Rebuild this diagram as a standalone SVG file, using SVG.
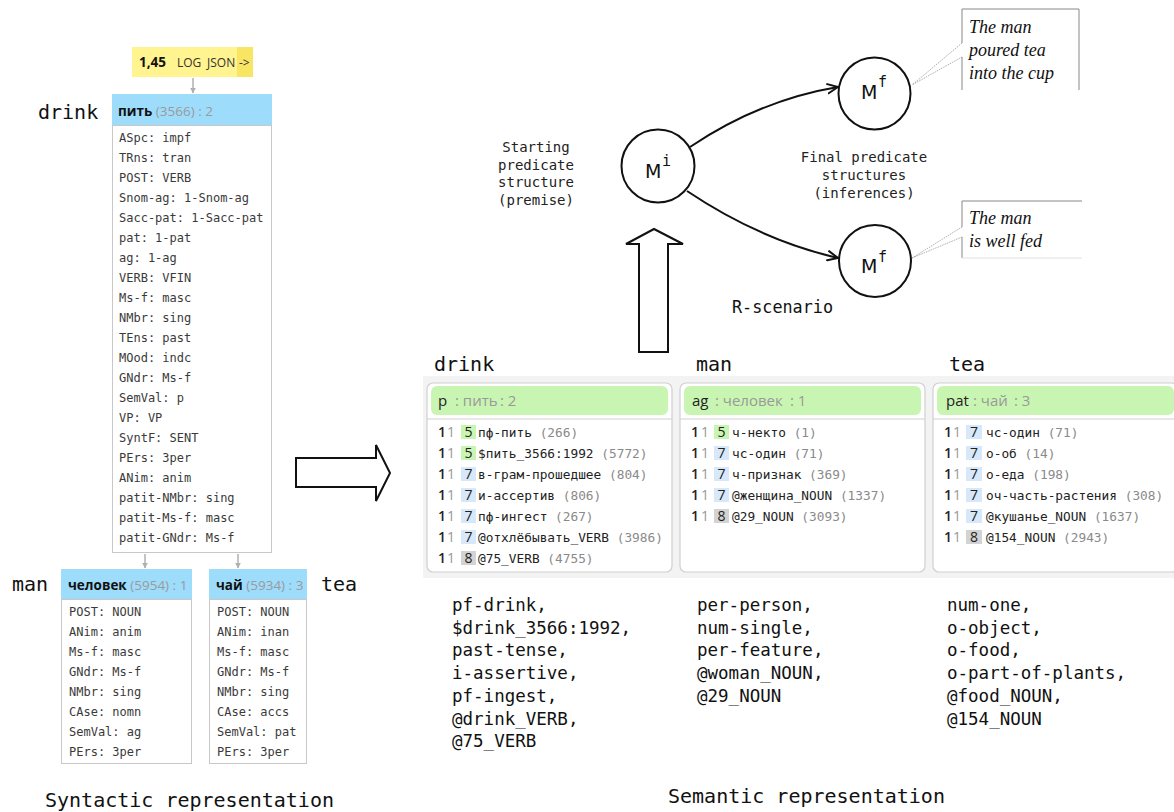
<svg xmlns="http://www.w3.org/2000/svg" width="1174" height="812" viewBox="0 0 1174 812">
<style>
.mono{font-family:"DejaVu Sans Mono","Liberation Mono",monospace}
.sans{font-family:"Open Sans","Noto Sans","DejaVu Sans",sans-serif}
.lbl{font-size:20px;fill:#111}
.attr{font-size:12px;fill:#3a3a3a}
.hdr{fill:#9edcfc}
.box{fill:#fff;stroke:#c8c8c8;stroke-width:1}
.htx{font-size:13.5px}
.hb{font-weight:bold;fill:#111}
.hg{fill:#9a9a9a}
.cap{font-size:14px;fill:#222;text-anchor:middle}
.circ{fill:#fff;stroke:#111;stroke-width:2}
.big{font-family:"DejaVu Sans","Liberation Sans",sans-serif;font-size:19px;fill:#111}
.sup{font-size:15px;fill:#111}
.it{font-family:"Liberation Serif","Times New Roman",serif;font-style:italic;font-size:18px;fill:#111}
.co{fill:none;stroke:#888;stroke-width:1}
.ptr{fill:none;stroke:#999;stroke-width:0.8;stroke-dasharray:1.5 1}
.panel{fill:#fff;stroke:#d0d0d0;stroke-width:1.2}
.ghdr{fill:#c9f5b2}
.sep{stroke:#d0d0d0;stroke-width:1.2}
.gh{font-size:15px}
.gk{fill:#222}
.gg{fill:#999}
.d1{font-size:14px;fill:#222;font-weight:600}
.d2{font-size:14px;fill:#999}
.bn{font-size:14px;fill:#222;text-anchor:middle}
.bg5{fill:#c9f5b2}
.bg7{fill:#d7e8fb}
.bg8{fill:#d3d3d3}
.row{font-size:12.8px;fill:#222}
.num{fill:#8a8a8a}
.list{font-size:17.5px;fill:#111}
.gline{stroke:#b0b0b0;stroke-width:1.5;fill:none}
.curve{stroke:#111;stroke-width:2;fill:none}
.hollow{fill:#fff;stroke:#111;stroke-width:2;stroke-linejoin:miter}
</style>
<defs>
<marker id="ga" viewBox="0 0 10 10" refX="9" refY="5" markerWidth="4" markerHeight="4" orient="auto">
<path d="M0,0 L10,5 L0,10 z" fill="#b0b0b0"/>
</marker>
<marker id="ba" viewBox="0 0 12 12" refX="11" refY="6" markerWidth="12" markerHeight="12" markerUnits="userSpaceOnUse" orient="auto">
<path d="M0,1 L11,6 L0,11" fill="none" stroke="#111" stroke-width="2"/>
</marker>
</defs>
<rect width="1174" height="812" fill="#fff"/>

<!-- Syntactic representation -->
<g id="log">
<rect x="132" y="47" width="121" height="30" fill="#fff48f"/>
<rect x="237" y="47" width="16" height="30" fill="#f8e563"/>
<text x="139" y="67" class="sans" font-size="13.5" font-weight="bold" fill="#111">1,45</text>
<text x="177" y="67" class="sans" font-size="12" fill="#333">LOG</text>
<text x="207" y="67" class="sans" font-size="12" fill="#333">JSON</text>
<text x="239" y="67" class="sans" font-size="12" fill="#333">-&gt;</text>
</g>

<g id="node-pit">
<rect x="112" y="94" width="160" height="31" class="hdr"/>
<text x="118" y="116" class="sans htx"><tspan class="hb">пить</tspan><tspan class="hg"> (3566) : 2</tspan></text>
<rect x="112.5" y="125.5" width="159" height="427" class="box"/>
<g class="mono attr">
<text x="119" y="142">ASpc: impf</text>
<text x="119" y="162">TRns: tran</text>
<text x="119" y="182">POST: VERB</text>
<text x="119" y="202">Snom-ag: 1-Snom-ag</text>
<text x="119" y="222">Sacc-pat: 1-Sacc-pat</text>
<text x="119" y="242">pat: 1-pat</text>
<text x="119" y="262">ag: 1-ag</text>
<text x="119" y="282">VERB: VFIN</text>
<text x="119" y="302">Ms-f: masc</text>
<text x="119" y="322">NMbr: sing</text>
<text x="119" y="342">TEns: past</text>
<text x="119" y="362">MOod: indc</text>
<text x="119" y="382">GNdr: Ms-f</text>
<text x="119" y="402">SemVal: p</text>
<text x="119" y="422">VP: VP</text>
<text x="119" y="442">SyntF: SENT</text>
<text x="119" y="462">PErs: 3per</text>
<text x="119" y="482">ANim: anim</text>
<text x="119" y="502">patit-NMbr: sing</text>
<text x="119" y="522">patit-Ms-f: masc</text>
<text x="119" y="542">patit-GNdr: Ms-f</text>
</g>
<text x="38" y="119" class="mono lbl">drink</text>
</g>

<g id="node-chelovek">
<rect x="61" y="569" width="131" height="30" class="hdr"/>
<text x="68" y="590" class="sans htx"><tspan class="hb">человек</tspan><tspan class="hg"> (5954) : 1</tspan></text>
<rect x="61.5" y="599.5" width="130" height="164" class="box"/>
<g class="mono attr">
<text x="69" y="616">POST: NOUN</text>
<text x="69" y="636">ANim: anim</text>
<text x="69" y="656">Ms-f: masc</text>
<text x="69" y="676">GNdr: Ms-f</text>
<text x="69" y="696">NMbr: sing</text>
<text x="69" y="716">CAse: nomn</text>
<text x="69" y="736">SemVal: ag</text>
<text x="69" y="756">PErs: 3per</text>
</g>
<text x="12" y="591" class="mono lbl">man</text>
</g>

<g id="node-chai">
<rect x="209" y="569" width="98" height="30" class="hdr"/>
<text x="216" y="590" class="sans htx"><tspan class="hb">чай</tspan><tspan class="hg"> (5934) : 3</tspan></text>
<rect x="209.5" y="599.5" width="97" height="164" class="box"/>
<g class="mono attr">
<text x="217" y="616">POST: NOUN</text>
<text x="217" y="636">ANim: inan</text>
<text x="217" y="656">Ms-f: masc</text>
<text x="217" y="676">GNdr: Ms-f</text>
<text x="217" y="696">NMbr: sing</text>
<text x="217" y="716">CAse: accs</text>
<text x="217" y="736">SemVal: pat</text>
<text x="217" y="756">PErs: 3per</text>
</g>
<text x="321" y="591" class="mono lbl">tea</text>
</g>

<text x="45" y="807" class="mono lbl">Syntactic representation</text>

<g id="connectors">
<line x1="193" y1="78" x2="193" y2="93" class="gline" marker-end="url(#ga)"/>
<line x1="145" y1="554" x2="145" y2="568" class="gline" marker-end="url(#ga)"/>
<line x1="238" y1="554" x2="238" y2="568" class="gline" marker-end="url(#ga)"/>
<path d="M690,147 Q760,100 838,87" class="curve" marker-end="url(#ba)"/>
<path d="M687,191 Q760,240 838,258" class="curve" marker-end="url(#ba)"/>
<polygon points="296,458 376,458 376,445 390,473 376,501 376,487 296,487" class="hollow"/>
<polygon points="639,352 639,244 626,244 654,229 683,244 668,244 668,352" class="hollow"/>
</g>

<!-- Semantic predicate structures -->
<g id="Mi">
<circle cx="658" cy="166" r="36.5" class="circ"/>
<text x="645" y="178" class="big">M</text>
<text x="662" y="166" class="mono sup">i</text>
<g class="mono cap">
<text x="536" y="152">Starting</text>
<text x="536" y="169.5">predicate</text>
<text x="536" y="187">structure</text>
<text x="536" y="204.5">(premise)</text>
</g>
</g>

<g id="Mf1">
<circle cx="874.5" cy="93.5" r="36" class="circ"/>
<text x="861" y="99" class="big">M</text>
<text x="878" y="87" class="mono sup">f</text>
</g>

<g id="Mf2">
<circle cx="875" cy="261" r="36" class="circ"/>
<text x="861" y="273" class="big">M</text>
<text x="878" y="262" class="mono sup">f</text>
</g>

<g class="mono cap">
<text x="864" y="162">Final predicate</text>
<text x="864" y="180">structures</text>
<text x="864" y="198">(inferences)</text>
</g>
<text x="732" y="313" class="mono" font-size="16.8" fill="#111">R-scenario</text>

<g id="callout1">
<path d="M962,43 L962,9 L1079,9 L1079,90 M962,57 L962,90" class="co"/>
<path d="M962,43 L912,85 M962,57 L912,85" class="ptr"/>
<text x="969" y="33" class="it">The man</text>
<text x="969" y="56" class="it">poured tea</text>
<text x="969" y="79" class="it">into the cup</text>
</g>

<g id="callout2">
<path d="M962,227 L962,201 L1082,201 M962,237 L962,258" class="co"/>
<line x1="962" y1="258" x2="1082" y2="258" stroke="#e0e0e0" stroke-width="1"/>
<path d="M962,227 L912,258 M962,237 L912,258" class="ptr"/>
<text x="969" y="224" class="it">The man</text>
<text x="969" y="247" class="it">is well fed</text>
</g>

<!-- Semantic panels -->
<rect x="423" y="376" width="751" height="202" fill="#f3f3f3"/>
<text x="434" y="371" class="mono lbl">drink</text>
<text x="696" y="371" class="mono lbl">man</text>
<text x="949" y="371" class="mono lbl">tea</text>

<g id="panel-p">
<rect x="427" y="383" width="245" height="189" rx="6" class="panel"/>
<rect x="431" y="386" width="237" height="29" rx="6" class="ghdr"/>
<line x1="427" y1="419" x2="672" y2="419" class="sep"/>
<text x="438" y="406" class="sans gh gk">p</text>
<text x="455" y="406" class="sans gh gg">: пить</text>
<text x="500" y="406" class="sans gh gg">: 2</text>
<rect x="461" y="425" width="15" height="14" class="bg5"/>
<rect x="461" y="446" width="15" height="14" class="bg5"/>
<rect x="461" y="467" width="15" height="14" class="bg7"/>
<rect x="461" y="488" width="15" height="14" class="bg7"/>
<rect x="461" y="509" width="15" height="14" class="bg7"/>
<rect x="461" y="530" width="15" height="14" class="bg7"/>
<rect x="461" y="551" width="15" height="14" class="bg8"/>
<g class="sans d1"><text x="438" y="437">1</text><text x="438" y="458">1</text><text x="438" y="479">1</text><text x="438" y="500">1</text><text x="438" y="521">1</text><text x="438" y="542">1</text><text x="438" y="563">1</text></g>
<g class="sans d2"><text x="447" y="437">1</text><text x="447" y="458">1</text><text x="447" y="479">1</text><text x="447" y="500">1</text><text x="447" y="521">1</text><text x="447" y="542">1</text><text x="447" y="563">1</text></g>
<g class="sans bn"><text x="468.5" y="437">5</text><text x="468.5" y="458">5</text><text x="468.5" y="479">7</text><text x="468.5" y="500">7</text><text x="468.5" y="521">7</text><text x="468.5" y="542">7</text><text x="468.5" y="563">8</text></g>
<g class="mono row">
<text x="478" y="436.5">пф-пить<tspan class="num"> (266)</tspan></text>
<text x="478" y="457.5">$пить_3566:1992<tspan class="num"> (5772)</tspan></text>
<text x="478" y="478.5">в-грам-прошедшее<tspan class="num"> (804)</tspan></text>
<text x="478" y="499.5">и-ассертив<tspan class="num"> (806)</tspan></text>
<text x="478" y="520.5">пф-ингест<tspan class="num"> (267)</tspan></text>
<text x="478" y="541.5">@отхлёбывать_VERB<tspan class="num"> (3986)</tspan></text>
<text x="478" y="562.5">@75_VERB<tspan class="num"> (4755)</tspan></text>
</g>
</g>

<g id="panel-ag">
<rect x="680" y="383" width="245" height="189" rx="6" class="panel"/>
<rect x="684" y="386" width="237" height="29" rx="6" class="ghdr"/>
<line x1="680" y1="419" x2="925" y2="419" class="sep"/>
<text x="692" y="406" class="sans gh gk">ag</text>
<text x="715" y="406" class="sans gh gg">: человек</text>
<text x="790" y="406" class="sans gh gg">: 1</text>
<rect x="714" y="425" width="15" height="14" class="bg5"/>
<rect x="714" y="446" width="15" height="14" class="bg7"/>
<rect x="714" y="467" width="15" height="14" class="bg7"/>
<rect x="714" y="488" width="15" height="14" class="bg7"/>
<rect x="714" y="509" width="15" height="14" class="bg8"/>
<g class="sans d1"><text x="691" y="437">1</text><text x="691" y="458">1</text><text x="691" y="479">1</text><text x="691" y="500">1</text><text x="691" y="521">1</text></g>
<g class="sans d2"><text x="701" y="437">1</text><text x="701" y="458">1</text><text x="701" y="479">1</text><text x="701" y="500">1</text><text x="701" y="521">1</text></g>
<g class="sans bn"><text x="721.5" y="437">5</text><text x="721.5" y="458">7</text><text x="721.5" y="479">7</text><text x="721.5" y="500">7</text><text x="721.5" y="521">8</text></g>
<g class="mono row">
<text x="732" y="436.5">ч-некто<tspan class="num"> (1)</tspan></text>
<text x="732" y="457.5">чс-один<tspan class="num"> (71)</tspan></text>
<text x="732" y="478.5">ч-признак<tspan class="num"> (369)</tspan></text>
<text x="732" y="499.5">@женщина_NOUN<tspan class="num"> (1337)</tspan></text>
<text x="732" y="520.5">@29_NOUN<tspan class="num"> (3093)</tspan></text>
</g>
</g>

<g id="panel-pat">
<rect x="933" y="383" width="245" height="189" rx="6" class="panel"/>
<rect x="937" y="386" width="237" height="29" rx="6" class="ghdr"/>
<line x1="933" y1="419" x2="1174" y2="419" class="sep"/>
<text x="946" y="406" class="sans gh gk">pat</text>
<text x="973" y="406" class="sans gh gg">: чай</text>
<text x="1014" y="406" class="sans gh gg">: 3</text>
<rect x="966" y="425" width="16" height="14" class="bg7"/>
<rect x="966" y="446" width="16" height="14" class="bg7"/>
<rect x="966" y="467" width="16" height="14" class="bg7"/>
<rect x="966" y="488" width="16" height="14" class="bg7"/>
<rect x="966" y="509" width="16" height="14" class="bg7"/>
<rect x="966" y="530" width="16" height="14" class="bg8"/>
<g class="sans d1"><text x="944" y="437">1</text><text x="944" y="458">1</text><text x="944" y="479">1</text><text x="944" y="500">1</text><text x="944" y="521">1</text><text x="944" y="542">1</text></g>
<g class="sans d2"><text x="953" y="437">1</text><text x="953" y="458">1</text><text x="953" y="479">1</text><text x="953" y="500">1</text><text x="953" y="521">1</text><text x="953" y="542">1</text></g>
<g class="sans bn"><text x="974" y="437">7</text><text x="974" y="458">7</text><text x="974" y="479">7</text><text x="974" y="500">7</text><text x="974" y="521">7</text><text x="974" y="542">8</text></g>
<g class="mono row">
<text x="986" y="436.5">чс-один<tspan class="num"> (71)</tspan></text>
<text x="986" y="457.5">о-об<tspan class="num"> (14)</tspan></text>
<text x="986" y="478.5">о-еда<tspan class="num"> (198)</tspan></text>
<text x="986" y="499.5">оч-часть-растения<tspan class="num"> (308)</tspan></text>
<text x="986" y="520.5">@кушанье_NOUN<tspan class="num"> (1637)</tspan></text>
<text x="986" y="541.5">@154_NOUN<tspan class="num"> (2943)</tspan></text>
</g>
</g>

<g class="mono list">
<text x="452" y="611">pf-drink,</text>
<text x="452" y="633.7">$drink_3566:1992,</text>
<text x="452" y="656.4">past-tense,</text>
<text x="452" y="679.1">i-assertive,</text>
<text x="452" y="701.8">pf-ingest,</text>
<text x="452" y="724.5">@drink_VERB,</text>
<text x="452" y="747.2">@75_VERB</text>
<text x="697" y="611">per-person,</text>
<text x="697" y="633.7">num-single,</text>
<text x="697" y="656.4">per-feature,</text>
<text x="697" y="679.1">@woman_NOUN,</text>
<text x="697" y="701.8">@29_NOUN</text>
<text x="947" y="611">num-one,</text>
<text x="947" y="633.7">o-object,</text>
<text x="947" y="656.4">o-food,</text>
<text x="947" y="679.1">o-part-of-plants,</text>
<text x="947" y="701.8">@food_NOUN,</text>
<text x="947" y="724.5">@154_NOUN</text>
</g>
<text x="668" y="803" class="mono lbl">Semantic representation</text>
</svg>
